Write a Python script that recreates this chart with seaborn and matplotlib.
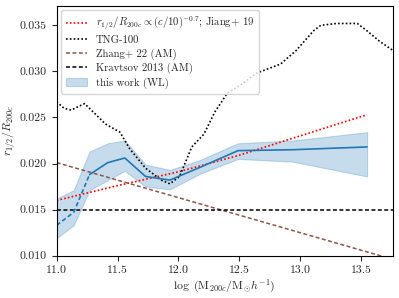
import numpy as np
import pandas as pd
import matplotlib
matplotlib.use("Agg")
import matplotlib.pyplot as plt
import seaborn as sns

# this work (WL)
wl_x = [11.0, 11.14, 11.27, 11.42, 11.56, 11.73, 11.93, 12.18, 12.49, 12.94, 13.55]
wl_y = [0.0133, 0.0147, 0.0188, 0.0201, 0.0206, 0.0186, 0.0182, 0.0196, 0.0214, 0.0215, 0.0218]
wl_hi = [0.0162, 0.0171, 0.0213, 0.0222, 0.0225, 0.0199, 0.0193, 0.0204, 0.0222, 0.0225, 0.0234]
wl_lo = [0.0119, 0.0133, 0.0171, 0.0182, 0.0192, 0.0175, 0.0172, 0.0189, 0.0205, 0.0202, 0.0186]

# Jiang+19 scaling
jiang_x = [11.0, 11.5, 12.0, 12.5, 13.0, 13.55]
jiang_y = [0.0160, 0.0176, 0.0191, 0.0209, 0.0230, 0.0253]

# TNG-100
tng_x = [11.0, 11.06, 11.12, 11.18, 11.23, 11.30, 11.40, 11.52, 11.60, 11.73, 11.86, 11.93,
         12.01, 12.11, 12.21, 12.30, 12.40, 12.52, 12.64, 12.84, 12.97, 13.11, 13.17, 13.30,
         13.47, 13.55, 13.65, 13.76]
tng_y = [0.0267, 0.0260, 0.0258, 0.0262, 0.0265, 0.0256, 0.0243, 0.0234, 0.0216, 0.0195, 0.0182, 0.0178,
         0.0186, 0.0218, 0.0232, 0.0256, 0.0276, 0.0286, 0.0298, 0.0308, 0.0323, 0.0344, 0.0350, 0.0352,
         0.0352, 0.0344, 0.0333, 0.0323]

# Zhang+22 (AM)
zhang_x = [11.0, 13.75]
zhang_y = [0.0201, 0.00965]

# Kravtsov 2013 (AM)
krav_x = [11.0, 13.76]
krav_y = [0.015, 0.015]

sns.set_style("ticks")
plt.rcParams['font.family'] = 'serif'
plt.rcParams['font.serif'] = ['cmr10', 'DejaVu Serif']
plt.rcParams['mathtext.fontset'] = 'cm'
plt.rcParams['axes.formatter.use_mathtext'] = True
plt.rcParams['axes.unicode_minus'] = False

fig = plt.figure(figsize=(3.99, 2.98), dpi=100)
ax = fig.add_axes([0.142, 0.142, 0.842, 0.838])

dash = (0, (2.6, 1.6))
dot = (0, (1, 1.3))
wl = pd.DataFrame({'x': wl_x, 'y': wl_y})
sns.lineplot(x=jiang_x, y=jiang_y, ax=ax, color='red', linestyle=dot, lw=1.2,
             label=r'$r_{1/2}/R_{200c} \propto (c/10)^{-0.7}$; Jiang+ 19')
sns.lineplot(x=tng_x, y=tng_y, ax=ax, color='black', linestyle=dot, lw=1.2, label='TNG-100')
sns.lineplot(x=zhang_x, y=zhang_y, ax=ax, color='#8c564b', linestyle=dash, lw=1.1, label='Zhang+ 22 (AM)')
sns.lineplot(x=krav_x, y=krav_y, ax=ax, color='black', linestyle=dash, lw=1.1, label='Kravtsov 2013 (AM)')
ax.fill_between(wl_x, wl_lo, wl_hi, color='#1f77b4', alpha=0.25, lw=0.8, label='this work (WL)')
sns.lineplot(data=wl.iloc[:3], x='x', y='y', ax=ax, color='#1f77b4', linestyle=dash, lw=1.2)
sns.lineplot(data=wl.iloc[2:], x='x', y='y', ax=ax, color='#1f77b4', linestyle='-', lw=1.2)

ax.set_xlim(11.0, 13.76)
ax.set_ylim(0.010, 0.0371)
ax.set_xticks([11.0, 11.5, 12.0, 12.5, 13.0, 13.5])
ax.set_yticks([0.010, 0.015, 0.020, 0.025, 0.030, 0.035])
ax.set_xticklabels(['11.0', '11.5', '12.0', '12.5', '13.0', '13.5'])
ax.set_yticklabels(['0.010', '0.015', '0.020', '0.025', '0.030', '0.035'])
ax.tick_params(labelsize=8.5, length=3.5, width=0.8)
ax.set_xlabel(r'$\log\ (\mathrm{M}_{200c}/\mathrm{M}_{\odot}h^{-1})$', fontsize=8.5, labelpad=2)
ax.set_ylabel(r'$r_{1/2}/R_{200c}$', fontsize=8.5, labelpad=2)
for s in ax.spines.values():
    s.set_color('black')
    s.set_linewidth(0.8)

handles, labels = ax.get_legend_handles_labels()
ax.legend(handles, labels, loc='upper left', fontsize=7.7, frameon=True, framealpha=0.8,
          handlelength=2.0, borderpad=0.45, labelspacing=0.3, borderaxespad=0.4)

fig.savefig('out.png', dpi=100)
